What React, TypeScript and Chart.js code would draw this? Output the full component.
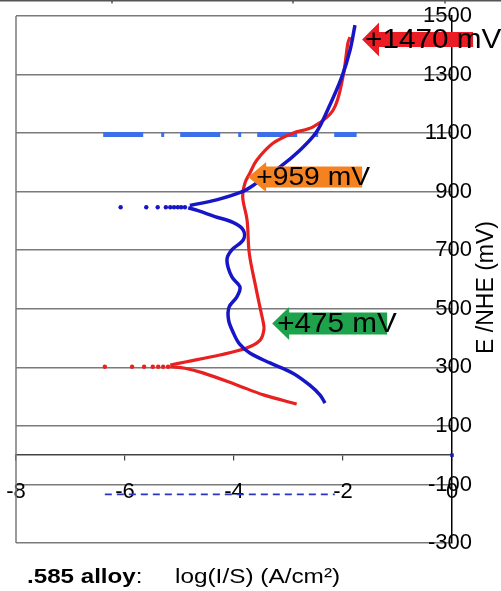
import React, { useEffect, useRef } from 'react';
import { Chart, registerables } from 'chart.js';

Chart.register(...registerables);

const FONT = '"Liberation Sans", Arial, Helvetica, sans-serif';

// axes
const xMin = -8;
const xMax = 0;
const xStep = 2;
const yMin = -300;
const yMax = 1500;
const yStep = 200;

// blue curve: cathodic branch (from low potential up to the notch)
const blueCathodicLogI = [-2.33, -2.42, -2.61, -2.92, -3.34, -3.71, -3.9, -4.01, -4.1, -4.09, -3.95, -3.89, -4.04, -4.13, -4.04, -3.83, -3.83, -4.02, -4.35, -4.66, -4.84];
const blueCathodicE = [178, 205, 239, 280, 315, 349, 380, 417, 462, 506, 540, 574, 609, 667, 701, 735, 769, 795, 815, 835, 845];
// blue curve: anodic branch (from the notch up)
const blueAnodicLogI = [-4.81, -4.32, -3.86, -3.58, -3.16, -2.8, -2.5, -2.28, -2.02, -1.87, -1.78];
const blueAnodicE = [853, 872, 899, 930, 984, 1040, 1100, 1180, 1293, 1384, 1469];
// blue notch markers
const blueTailLogI = [-6.08, -5.61, -5.4, -5.25, -5.17, -5.1, -5.03, -4.97, -4.9];
const blueTailE = [847, 847, 847, 847, 847, 847, 847, 847, 847];

// red curve: cathodic branch
const redCathodicLogI = [-2.85, -3.46, -3.95, -4.57, -4.9, -5.17];
const redCathodicE = [175, 206, 240, 281, 297, 302];
// red curve: anodic branch
const redAnodicLogI = [-5.17, -4.87, -4.26, -3.77, -3.52, -3.45, -3.47, -3.5, -3.6, -3.72, -3.76, -3.84, -3.8, -3.71, -3.58, -3.28, -2.92, -2.55, -2.18, -2.0, -1.91, -1.87];
const redAnodicE = [308, 319, 342, 366, 393, 430, 460, 485, 574, 690, 803, 881, 929, 963, 1008, 1066, 1100, 1121, 1179, 1293, 1408, 1428];
// red notch markers
const redTailLogI = [-6.37, -5.87, -5.65, -5.49, -5.39, -5.3, -5.21];
const redTailE = [302, 302, 302, 302, 302, 302, 302];

// reference lines
const upperRefLogI = [-6.4, -1.75];
const upperRefE = [1095, 1095];
const lowerRefLogI = [-6.37, -2.15];
const lowerRefE = [-134, -134];
const originLogI = [0];
const originE = [0];

// annotations (arrow tip position in data units)
const annotationText = ['+1470 mV', '+959 mV', '+475 mV'];
const annotationLogI = [-1.65, -3.74, -3.3];
const annotationE = [1420, 950, 450];

const arrowStyles = [
  { color: '#ec1c24', len: 111, headLen: 17, headHalf: 17, bodyHalf: 7.5, textDx: 3, size: 27, sx: 1.1 },
  { color: '#f58220', len: 114, headLen: 18, headHalf: 15, bodyHalf: 10.5, textDx: 8, size: 25, sx: 1.13 },
  { color: '#1ea24b', len: 115, headLen: 17, headHalf: 16.5, bodyHalf: 11, textDx: 5, size: 27, sx: 1.1 },
];

const yTitle = 'E /NHE (mV)';
const captionBold = '.585 alloy';
const captionColon = ':';
const xTitle = 'log(I/S) (A/cm\u00B2)';

const GRID = '#7a7a7a';
const BLUE = '#1616c8';
const RED = '#e8201f';

const pts = (xs: number[], ys: number[]) => xs.map((x, i) => ({ x, y: ys[i] }));

function stretchedText(ctx: CanvasRenderingContext2D, text: string, x: number, y: number, font: string, sx: number) {
  ctx.save();
  ctx.font = font;
  ctx.textBaseline = 'middle';
  ctx.textAlign = 'left';
  ctx.fillStyle = '#000';
  ctx.translate(x, y);
  ctx.scale(sx, 1);
  ctx.fillText(text, 0, 0);
  ctx.restore();
}

const overlayPlugin = {
  id: 'overlay',
  beforeDatasetsDraw(chart: any) {
    const { ctx, chartArea: a } = chart;
    ctx.save();
    ctx.strokeStyle = GRID;
    ctx.lineWidth = 1.5;
    ctx.beginPath();
    ctx.moveTo(a.left, a.top);
    ctx.lineTo(a.left, a.bottom);
    ctx.stroke();
    ctx.restore();
  },
  afterDraw(chart: any) {
    const { ctx, chartArea: a, scales } = chart;
    const xs = scales.x;
    const ys = scales.y;
    // arrows with labels
    annotationText.forEach((t, i) => {
      const s = arrowStyles[i];
      const tipX = xs.getPixelForValue(annotationLogI[i]);
      const cy = ys.getPixelForValue(annotationE[i]);
      ctx.save();
      ctx.beginPath();
      ctx.moveTo(tipX, cy);
      ctx.lineTo(tipX + s.headLen, cy - s.headHalf);
      ctx.lineTo(tipX + s.headLen, cy - s.bodyHalf);
      ctx.lineTo(tipX + s.len, cy - s.bodyHalf);
      ctx.lineTo(tipX + s.len, cy + s.bodyHalf);
      ctx.lineTo(tipX + s.headLen, cy + s.bodyHalf);
      ctx.lineTo(tipX + s.headLen, cy + s.headHalf);
      ctx.closePath();
      ctx.fillStyle = s.color;
      ctx.fill();
      ctx.restore();
      stretchedText(ctx, t, tipX + s.textDx, cy + 1, `${s.size}px ${FONT}`, s.sx);
    });
    // y axis title (reads bottom to top)
    ctx.save();
    ctx.translate(a.right + 35, (a.top + a.bottom) / 2 + 8);
    ctx.rotate(-Math.PI / 2);
    ctx.font = `23px ${FONT}`;
    ctx.textAlign = 'center';
    ctx.textBaseline = 'middle';
    ctx.fillStyle = '#000';
    ctx.fillText(yTitle, 0, 0);
    ctx.restore();
    // captions
    const capY = a.bottom + 34;
    ctx.save();
    ctx.font = `bold 21px ${FONT}`;
    const wBold = ctx.measureText(captionBold).width * 1.15;
    ctx.restore();
    stretchedText(ctx, captionBold, a.left + 11, capY, `bold 21px ${FONT}`, 1.15);
    stretchedText(ctx, captionColon, a.left + 11 + wBold, capY, `21px ${FONT}`, 1.15);
    stretchedText(ctx, xTitle, a.left + 159, capY, `21px ${FONT}`, 1.16);
    // edge of the neighbouring frame at the very top
    ctx.save();
    ctx.strokeStyle = '#555';
    ctx.lineWidth = 1.5;
    ctx.beginPath();
    ctx.moveTo(0, 0.75);
    ctx.lineTo(chart.width, 0.75);
    [112, 293, 445].forEach((px) => {
      ctx.moveTo(px, 0);
      ctx.lineTo(px, 3.5);
    });
    ctx.stroke();
    ctx.restore();
  },
};

export default function App() {
  const ref = useRef<HTMLCanvasElement>(null);

  useEffect(() => {
    if (!ref.current) return;
    const line = (data: any, color: string, width: number) => ({
      data,
      borderColor: color,
      backgroundColor: color,
      borderWidth: width,
      pointRadius: 0,
      showLine: true,
      tension: 0.35,
      fill: false,
    });
    const chart = new Chart(ref.current, {
      type: 'scatter',
      data: {
        datasets: [
          line(pts(blueAnodicLogI, blueAnodicE), BLUE, 3.5),
          line(pts(blueCathodicLogI, blueCathodicE), BLUE, 3.5),
          {
            data: pts(blueTailLogI, blueTailE),
            showLine: false,
            pointRadius: 2.2,
            pointBorderWidth: 0,
            backgroundColor: BLUE,
            borderColor: BLUE,
          },
          line(pts(redAnodicLogI, redAnodicE), RED, 3.2),
          line(pts(redCathodicLogI, redCathodicE), RED, 3.2),
          {
            data: pts(redTailLogI, redTailE),
            showLine: false,
            pointRadius: 2.2,
            pointBorderWidth: 0,
            backgroundColor: RED,
            borderColor: RED,
          },
          {
            data: pts(originLogI, originE),
            showLine: false,
            pointStyle: 'rect',
            pointRadius: 2.5,
            pointBorderWidth: 0,
            backgroundColor: '#1a1ab0',
            clip: false,
          },
          {
            data: pts(lowerRefLogI, lowerRefE),
            showLine: true,
            borderColor: '#2a35c8',
            borderWidth: 1.6,
            borderDash: [7, 5],
            pointRadius: 0,
            tension: 0,
          },
          {
            data: pts(upperRefLogI, upperRefE),
            showLine: true,
            borderColor: '#3d6fe8',
            borderWidth: 5,
            borderDash: [40, 18, 3, 16],
            borderCapStyle: 'butt',
            pointRadius: 0,
            tension: 0,
          },
        ] as any,
      },
      options: {
        responsive: false,
        animation: false,
        events: [],
        layout: { padding: { left: 16, top: 16, right: 0, bottom: 48 } },
        plugins: {
          legend: { display: false },
          tooltip: { enabled: false },
          title: { display: false },
        },
        scales: {
          x: {
            type: 'linear',
            min: xMin,
            max: xMax,
            position: { y: 0 } as any,
            afterFit: (s: any) => {
              s.paddingLeft = 0;
              s.paddingRight = 0;
              s.paddingTop = 0;
              s.paddingBottom = 0;
            },
            grid: { display: true, drawOnChartArea: false, drawTicks: true, tickLength: 5, color: '#444', lineWidth: 1.2 },
            border: { display: true, color: '#444', width: 1.5 },
            ticks: {
              stepSize: xStep,
              color: '#000',
              padding: 19,
              font: { family: FONT, size: 22 },
              callback: (v: any) => String(v),
            },
          },
          y: {
            type: 'linear',
            position: 'right',
            min: yMin,
            max: yMax,
            afterFit: (s: any) => {
              s.width = 49;
              s.paddingLeft = 0;
              s.paddingRight = 0;
              s.paddingTop = 0;
              s.paddingBottom = 0;
            },
            grid: { color: GRID, lineWidth: 1.5, drawTicks: false },
            border: { display: true, color: '#000', width: 1.5 },
            ticks: {
              stepSize: yStep,
              mirror: true,
              padding: 20,
              color: '#000',
              font: { family: FONT, size: 22 },
              callback: (v: any) => String(v),
            },
          },
        },
      } as any,
      plugins: [overlayPlugin],
    });
    return () => chart.destroy();
  }, []);

  return (
    <div style={{ position: 'fixed', left: 0, top: 0, width: 501, height: 591, background: '#fff' }}>
      <canvas ref={ref} width={501} height={591} style={{ display: 'block', width: 501, height: 591 }} />
    </div>
  );
}
